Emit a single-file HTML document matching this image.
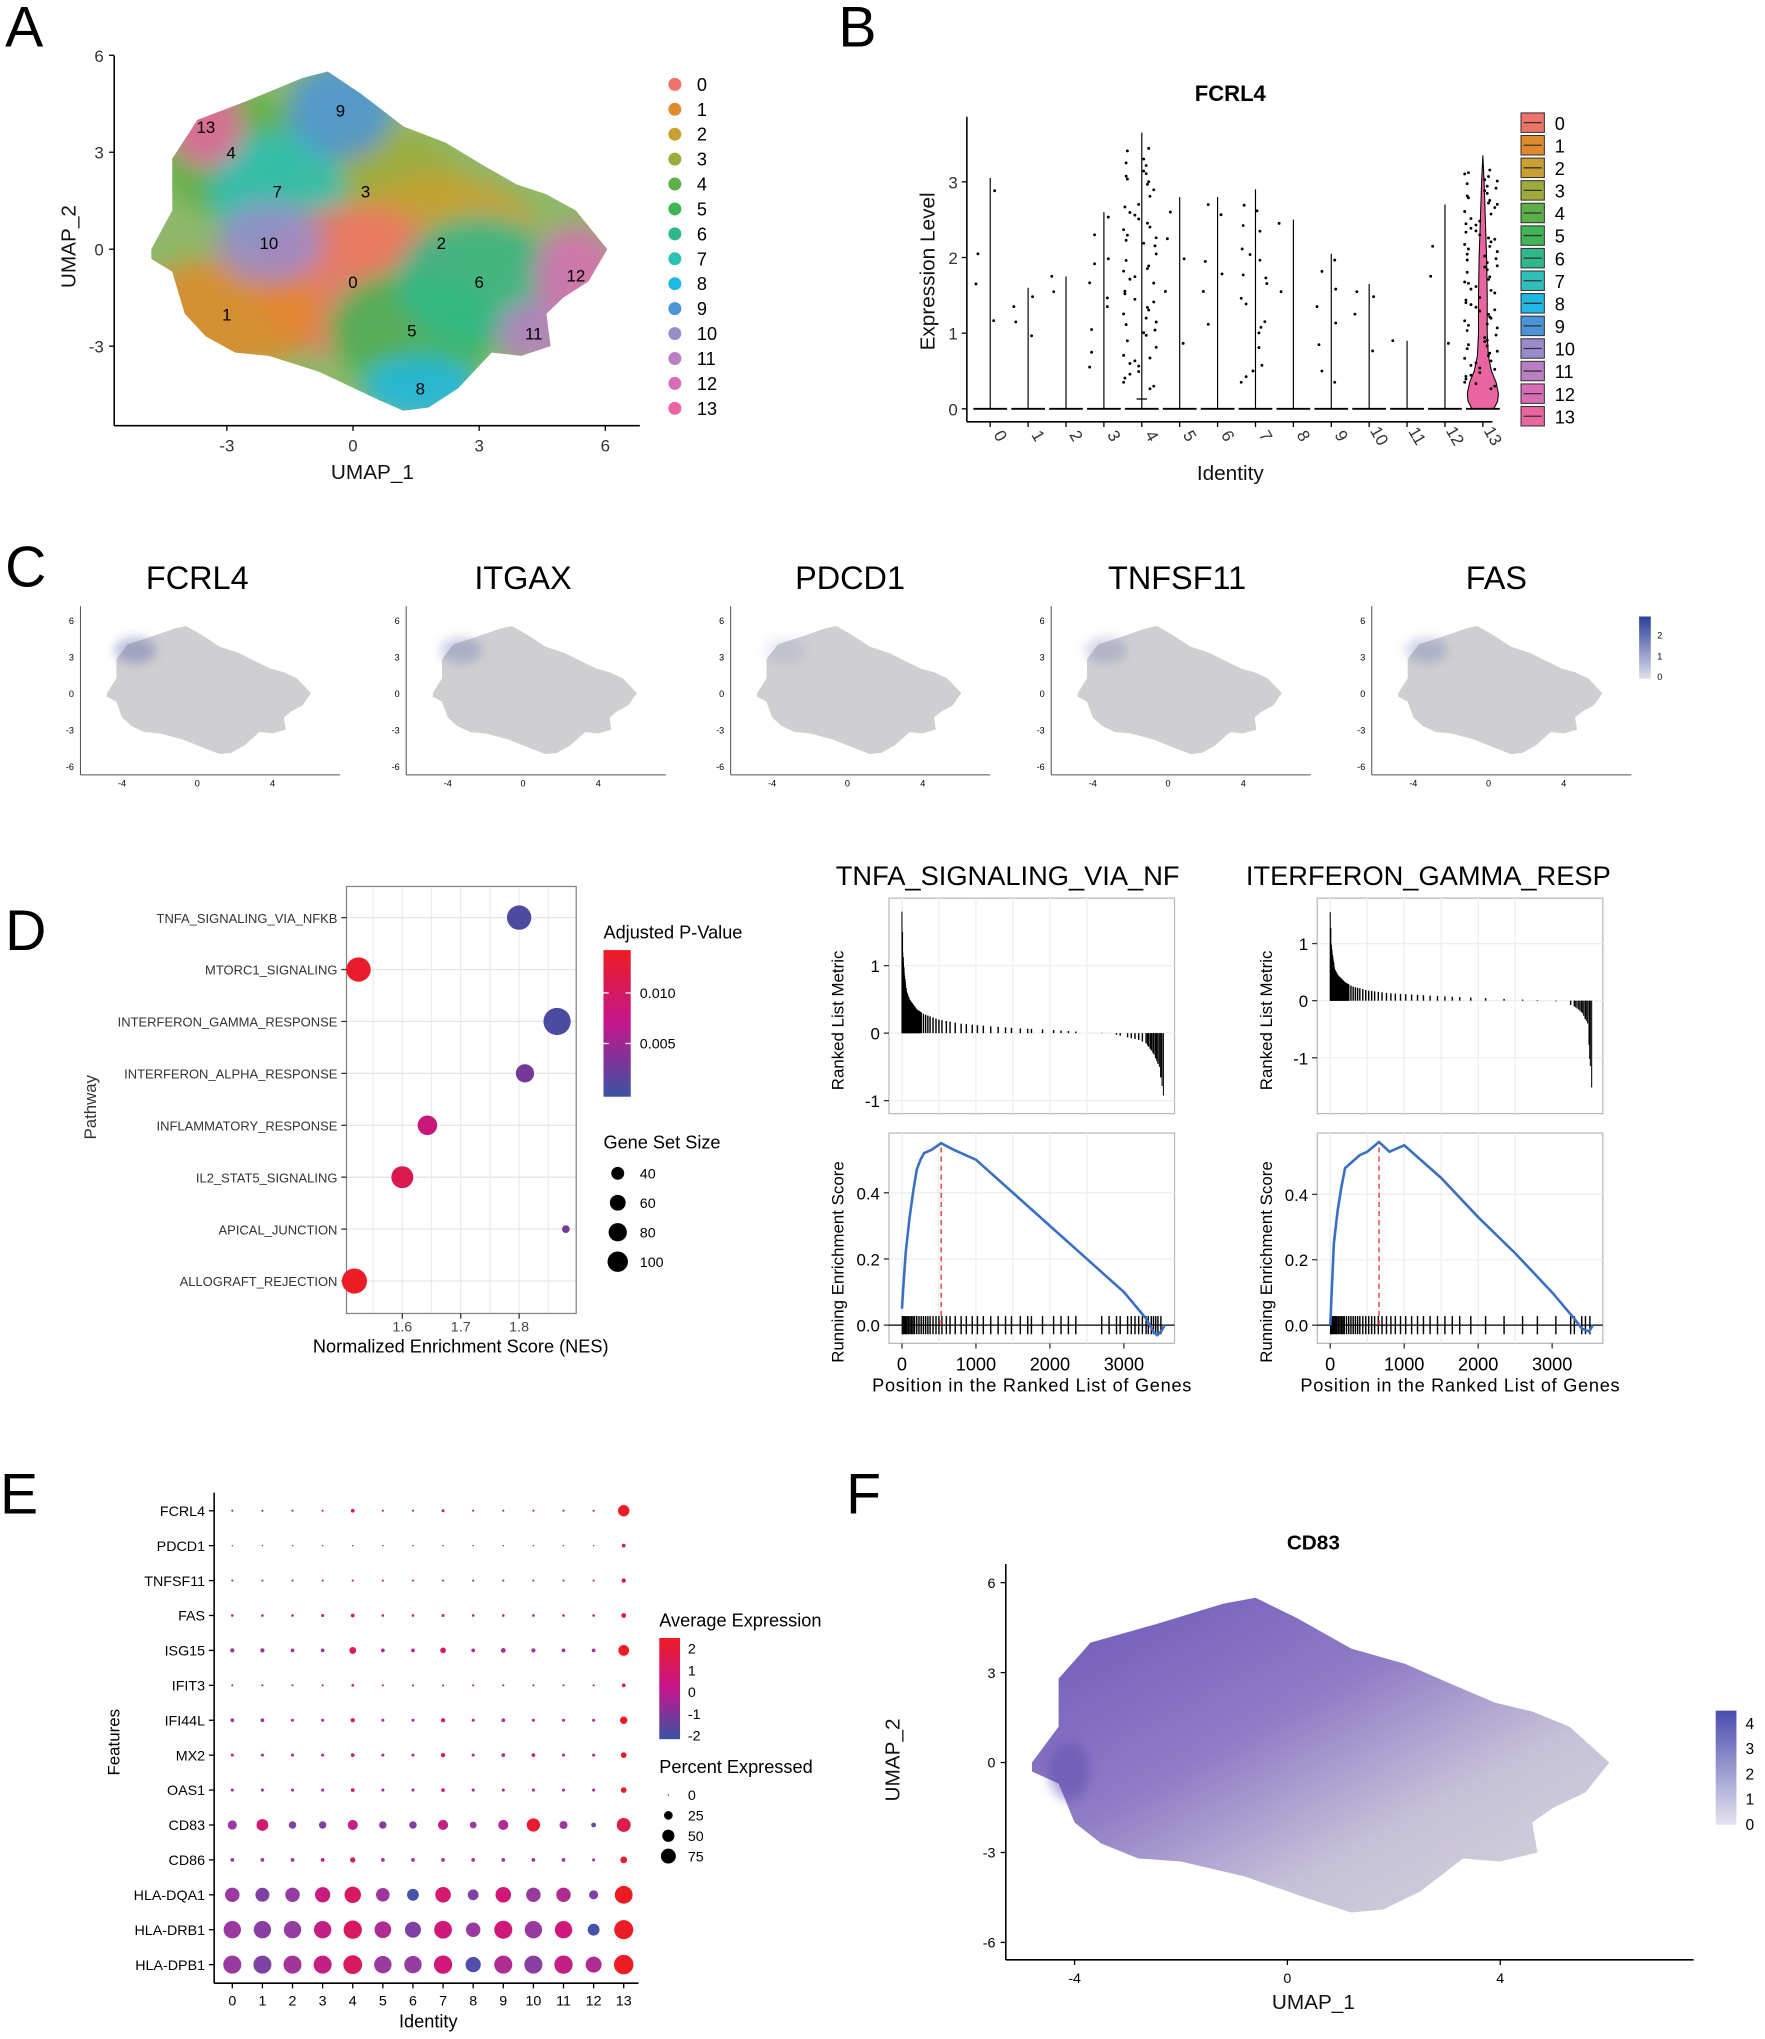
<!DOCTYPE html>
<html><head><meta charset="utf-8"><style>
html,body{margin:0;padding:0;background:#fff}
svg{display:block}
text{font-family:"Liberation Sans",sans-serif}
.lab{font-size:44px}
.tk{font-size:13px;fill:#333}
.at{font-size:16px;fill:#111}
</style></head><body>
<svg id="fig" xmlns="http://www.w3.org/2000/svg" width="1765" height="2039" viewBox="0 0 1360 1571" preserveAspectRatio="none">
<rect width="1360" height="1571" fill="#fff"/>
<defs>
<clipPath id="clipA"><path id="clipApath"/></clipPath>
<filter id="blurA" x="-20%" y="-20%" width="140%" height="140%"><feGaussianBlur stdDeviation="9"/></filter>
<filter id="blurS" x="-50%" y="-50%" width="200%" height="200%"><feGaussianBlur stdDeviation="4"/></filter>
<linearGradient id="gF" x1="0" x2="1" y1="0" y2="1"><stop offset="0" stop-color="#6d58b8"/><stop offset="0.4" stop-color="#8f7cc6"/><stop offset="0.68" stop-color="#c6c1d8"/><stop offset="1" stop-color="#d6d5da"/></linearGradient>
<linearGradient id="gCb" x1="0" x2="0" y1="0" y2="1"><stop offset="0" stop-color="#2b3f9a"/><stop offset="1" stop-color="#e0e0ea"/></linearGradient>
<linearGradient id="gFb" x1="0" x2="0" y1="0" y2="1"><stop offset="0" stop-color="#4a4cb0"/><stop offset="1" stop-color="#e6e3ee"/></linearGradient>
<linearGradient id="gP" x1="0" x2="0" y1="0" y2="1"><stop offset="0" stop-color="#ed1c24"/><stop offset="0.5" stop-color="#c4168c"/><stop offset="1" stop-color="#3a53a4"/></linearGradient>
</defs>
<g>
<text class="lab" x="4" y="36">A</text><text class="lab" x="646" y="36">B</text>
<text class="lab" x="4" y="452">C</text><text class="lab" x="4" y="732">D</text>
<text class="lab" x="0" y="1166">E</text><text class="lab" x="652" y="1166">F</text>
</g>
<g id="pA">
<text class="at" x="255" y="369">UMAP_1</text>
<text class="at" transform="translate(58,222) rotate(-90)">UMAP_2</text>
</g>
<g id="pB">
<text x="948" y="78" text-anchor="middle" style="font-size:17px;font-weight:bold">FCRL4</text>
<text class="at" x="948" y="370" text-anchor="middle">Identity</text>
<text class="at" transform="translate(720,270) rotate(-90)">Expression Level</text>
</g>
<g id="pC"></g>
<g id="pD">
<text style="font-size:13px;fill:#333" transform="translate(74,878) rotate(-90)">Pathway</text>
<text style="font-size:14px" x="355" y="1042" text-anchor="middle">Normalized Enrichment Score (NES)</text>
<text style="font-size:14px" x="465" y="723">Adjusted P-Value</text>
<text style="font-size:14px" x="465" y="885">Gene Set Size</text>
</g>
<g id="pG"></g>
<g id="pE">
<text style="font-size:13px" transform="translate(92,1368) rotate(-90)">Features</text>
<text style="font-size:14px" x="330" y="1562" text-anchor="middle">Identity</text>
<text style="font-size:14px" x="508" y="1253">Average Expression</text>
<text style="font-size:14px" x="508" y="1366">Percent Expressed</text>
</g>
<g id="pF">
<text x="1012" y="1194" text-anchor="middle" style="font-size:16px;font-weight:bold">CD83</text>
<text class="at" x="1012" y="1548" text-anchor="middle">UMAP_1</text>
<text class="at" transform="translate(693,1388) rotate(-90)">UMAP_2</text>
</g>
</svg>
<script>
const NS="http://www.w3.org/2000/svg";
function mk(tag,attrs,parent){const e=document.createElementNS(NS,tag);for(const k in attrs)e.setAttribute(k,attrs[k]);parent.appendChild(e);return e;}
function tx(s,attrs,parent){const e=mk('text',attrs,parent);e.textContent=s;return e;}
function lerp(a,b,t){return a+(b-a)*t;}
function interp(xs,ys,x){if(x<=xs[0])return ys[0];for(let i=1;i<xs.length;i++){if(x<=xs[i]){const t=(x-xs[i-1])/(xs[i]-xs[i-1]);return lerp(ys[i-1],ys[i],t);}}return ys[ys.length-1];}
function hex(c){return [parseInt(c.slice(1,3),16),parseInt(c.slice(3,5),16),parseInt(c.slice(5,7),16)];}
function grad(stops,cols,v){for(let i=1;i<stops.length;i++){if(v<=stops[i]||i==stops.length-1){let t=Math.max(0,Math.min(1,(v-stops[i-1])/(stops[i]-stops[i-1])));const a=hex(cols[i-1]),b=hex(cols[i]);return 'rgb('+a.map((q,j)=>Math.round(lerp(q,b[j],t))).join(',')+')';}}}

const outlineX=[-4.8,-4.3,-4.3,-3.7,-2.5,-1.2,-0.6,0.2,1.2,2.2,3.1,3.9,4.6,5.3,6.05,5.6,5.0,4.6,4.7,4.0,3.3,2.5,1.8,1.2,0.5,-0.8,-2.0,-2.8,-3.5,-4.0,-4.3,-4.8];
const outlineY=[0.0,1.2,2.8,4.0,4.6,5.3,5.5,4.8,3.8,3.3,2.6,2.0,1.7,1.2,0.0,-1.0,-1.5,-2.0,-3.0,-3.3,-3.2,-4.3,-4.9,-5.0,-4.6,-3.8,-3.3,-3.2,-2.7,-2.0,-0.7,-0.3];

const clusterIds=['0','1','2','3','4','5','6','7','8','9','10','11','12','13'];
const clusterColors=['#F0736A','#E08A2B','#C9A032','#9EAA3A','#5DAF47','#3FB556','#2FB98A','#2EBFB8','#1FB7E3','#4A95D8','#9A8CCB','#BA7FC3','#D96DB5','#EA659F'];
const clusterCX=[0,-3,2.1,0.3,-2.9,1.4,3.0,-1.8,1.6,-0.3,-2.0,4.3,5.3,-3.5];
const clusterCY=[-1,-2,0.2,1.8,3.0,-2.5,-1.0,1.8,-4.3,4.3,0.2,-2.6,-0.8,3.8];
const clusterRX=[1.9,1.8,1.9,1.9,1.4,1.6,1.6,1.3,1.1,1.0,1.0,0.7,0.8,0.7];
const clusterRY=[1.9,1.4,1.7,1.6,1.6,1.5,1.6,1.5,0.8,1.2,1.0,0.8,1.2,1.0];
const aTicks=[-3,0,3,6];
(function(){
 const g=document.getElementById('pA');
 const sx=v=>272+v*32.4, sy=v=>192-v*24.9;
 let d='';outlineX.forEach((x,i)=>{d+=(i?'L':'M')+sx(x).toFixed(1)+','+sy(outlineY[i]).toFixed(1);});d+='Z';
 document.getElementById('clipApath').setAttribute('d',d);
 const cg=mk('g',{'clip-path':'url(#clipA)'},g);
 mk('path',{d:d,fill:'#8fb86a'},cg);
 const bg=mk('g',{filter:'url(#blurA)'},cg);
 const order=[3,4,7,2,0,1,10,5,6,9,8,11,12,13];
 order.forEach(i=>{
  const e=mk('ellipse',{cx:sx(clusterCX[i]),cy:sy(clusterCY[i]),rx:clusterRX[i]*32.4*1.25,ry:clusterRY[i]*24.9*1.25,fill:clusterColors[i],opacity:0.85},bg);
  
  
 });
 clusterIds.forEach((c,i)=>{const t=tx(c,{x:sx(clusterCX[i]),y:sy(clusterCY[i])+5,'text-anchor':'middle',style:'font-size:13px'},g);
  });
 mk('line',{x1:88,y1:43,x2:88,y2:328,stroke:'#000','stroke-width':1.2},g);
 mk('line',{x1:88,y1:328,x2:493,y2:328,stroke:'#000','stroke-width':1.2},g);
 aTicks.forEach(v=>{mk('line',{x1:sx(v),x2:sx(v),y1:328,y2:332,stroke:'#000'},g);tx(String(v),{x:sx(v),y:348,'text-anchor':'middle',class:'tk'},g);
  mk('line',{x1:84,x2:88,y1:sy(v),y2:sy(v),stroke:'#000'},g);tx(String(v),{x:80,y:sy(v)+5,'text-anchor':'end',class:'tk'},g);});
 clusterIds.forEach((c,i)=>{const y=65+i*19.2;
  const dot=mk('circle',{cx:520,cy:y,r:5,fill:clusterColors[i]},g);
  
  tx(c,{x:537,y:y+5,style:'font-size:14px'},g);});
})();

const violinMax=[3.05,1.6,1.75,2.6,3.65,2.8,2.8,2.9,2.5,2.05,1.65,0.9,2.7,3.35];
const jitterCounts=[4,4,2,10,60,5,6,20,2,8,4,1,3,90];
const jitterSeed=[[1.6,2.1,1.2,2.9],[1.3,1.2,1.0,1.5],[1.7,1.6],[0.5,1.1,1.5,2.0,2.3,1.9,2.5,1.3,0.8,1.7],[],[1.5,2.3,0.9,2.0,2.6],[1.5,2.0,2.6,1.8,2.7,1.1],[],[2.4,1.6],[1.3,0.9,2.0,1.6,0.5,1.8,1.1,0.3],[1.2,1.6,0.8,1.5],[0.85],[1.7,2.2,0.9],[]];
const violin13Y=[0,0.1,0.2,0.35,0.5,0.7,1.0,1.5,2.0,2.5,3.0,3.35];
const violin13W=[0.7,0.95,1.0,0.85,0.55,0.35,0.28,0.28,0.24,0.16,0.08,0];
const bTicks=[0,1,2,3];
(function(){
 const g=document.getElementById('pB');
 const sx=i=>763+i*29.2, sy=v=>315-v*58.3;
 mk('line',{x1:745,y1:90,x2:745,y2:325,stroke:'#000','stroke-width':1.2},g);
 mk('line',{x1:745,y1:325,x2:1150,y2:325,stroke:'#000','stroke-width':1.2},g);
 bTicks.forEach(v=>{mk('line',{x1:741,x2:745,y1:sy(v),y2:sy(v),stroke:'#000'},g);tx(String(v),{x:738,y:sy(v)+5,'text-anchor':'end',class:'tk'},g);});
 clusterIds.forEach((c,i)=>{
  const x=sx(i);
  mk('line',{x1:x,x2:x,y1:325,y2:329,stroke:'#000'},g);
  tx(c,{x:0,y:0,transform:'translate('+(x+4)+',338) rotate(60)','text-anchor':'middle',class:'tk'},g);
  if(i==13){
   let d='M'+x+','+sy(0);
   violin13Y.forEach((v,k)=>{d+='L'+(x+violin13W[k]*12)+','+sy(v);});
   for(let k=violin13Y.length-1;k>=0;k--){d+='L'+(x-violin13W[k]*12)+','+sy(violin13Y[k]);}
   const p=mk('path',{d:d+'Z',fill:clusterColors[i],stroke:'#000','stroke-width':0.8},g);
   
  } else {
   const v=mk('line',{x1:x,x2:x,y1:sy(0),y2:sy(violinMax[i]),stroke:'#000','stroke-width':0.9},g);
   
  }
  mk('line',{x1:x-13,x2:x+13,y1:sy(0),y2:sy(0),stroke:'#000','stroke-width':1.4},g);
  let vals=jitterSeed[i].slice();
  const n=jitterCounts[i];
  for(let k=vals.length;k<n;k++){const f=((k*37)%23)/23;vals.push(0.3+f*(violinMax[i]-0.4));}
  vals.forEach((v,k)=>{const off=(((k*53+k*k*7)%29)/29-0.5)*(i==13||i==4?28:22);
   mk('circle',{cx:x+off,cy:sy(v)+((k*13)%7-3),r:1.1,fill:'#000'},g);});
 });
 mk('line',{x1:sx(4)-4,x2:sx(4)+4,y1:sy(0.13),y2:sy(0.13),stroke:'#000'},g);
 clusterIds.forEach((c,i)=>{const y=87+i*17.4;
  const r=mk('rect',{x:1172,y:y,width:18,height:15,fill:clusterColors[i],stroke:'#333','stroke-width':0.8},g);
  
  mk('line',{x1:1174,x2:1188,y1:y+7.5,y2:y+7.5,stroke:'#333'},g);
  tx(c,{x:1198,y:y+13,style:'font-size:14px'},g);});
})();

const featureGenes=['FCRL4','ITGAX','PDCD1','TNFSF11','FAS'];
const featureLeft=[62,313,563,810,1057];
const featureTitleX=[152,403,655,907,1153];
const featureBlue=[0.4,0.3,0.12,0.25,0.28];
const cYTicks=[6,3,0,-3,-6];
const cXTicks=[-4,0,4];
(function(){
 const g=document.getElementById('pC');
 featureGenes.forEach((gene,j)=>{
  const L=featureLeft[j];
  const sx=v=>L+90+v*14.5, sy=v=>534-v*9.4;
  const t=tx(gene,{x:featureTitleX[j],y:454,'text-anchor':'middle',style:'font-size:25px'},g);
  
  let d='';outlineX.forEach((x,i)=>{d+=(i?'L':'M')+sx(x).toFixed(1)+','+sy(outlineY[i]).toFixed(1);});
  const p=mk('path',{d:d+'Z',fill:'#cfcfd2'},g);
  
  mk('ellipse',{cx:sx(-3.3),cy:sy(3.5),rx:16,ry:10,fill:'#5860a8',opacity:featureBlue[j],filter:'url(#blurS)'},g);
  mk('line',{x1:L,y1:467,x2:L,y2:597,stroke:'#555','stroke-width':0.8},g);
  mk('line',{x1:L,y1:597,x2:L+200,y2:597,stroke:'#555','stroke-width':0.8},g);
  cYTicks.forEach(v=>tx(String(v),{x:L-5,y:sy(v)+3,'text-anchor':'end',style:'font-size:7px'},g));
  cXTicks.forEach(v=>tx(String(v),{x:sx(v),y:606,'text-anchor':'middle',style:'font-size:7px'},g));
 });
 const cb=mk('rect',{x:1263,y:475,width:9,height:48,fill:'url(#gCb)'},g);
 
 [['2',492],['1',508],['0',524]].forEach(a=>tx(a[0],{x:1277,y:a[1],style:'font-size:7px'},g));
})();

const pathways=['TNFA_SIGNALING_VIA_NFKB','MTORC1_SIGNALING','INTERFERON_GAMMA_RESPONSE','INTERFERON_ALPHA_RESPONSE','INFLAMMATORY_RESPONSE','IL2_STAT5_SIGNALING','APICAL_JUNCTION','ALLOGRAFT_REJECTION'];
const nesValues=[1.80,1.525,1.865,1.81,1.643,1.60,1.88,1.518];
const padjValues=[0.001,0.0135,0.0008,0.003,0.008,0.011,0.003,0.014];
const setSizes=[80,80,100,45,52,65,8,85];
const nesTicks=[1.6,1.7,1.8];
const sizeLegend=[40,60,80,100];
(function(){
 const g=document.getElementById('pD');
 const sx=v=>310+(v-1.6)*450, sy=i=>707+i*40;
 const sr=s=>Math.sqrt(s/100)*10.5;
 const pc=p=>grad([0,0.007,0.014],['#3a53a4','#c4168c','#ed1c24'],p);
 mk('rect',{x:267,y:683,width:177,height:329,fill:'#fff'},g);
 for(let v=1.5;v<=1.9;v+=0.05){const x=sx(v);if(x>267&&x<444)mk('line',{x1:x,x2:x,y1:683,y2:1012,stroke:'#ececec'},g);}
 pathways.forEach((p,i)=>mk('line',{x1:267,x2:444,y1:sy(i),y2:sy(i),stroke:'#e6e6e6'},g));
 mk('rect',{x:267,y:683,width:177,height:329,fill:'none',stroke:'#888','stroke-width':1},g);
 pathways.forEach((p,i)=>{
  tx(p,{x:260,y:sy(i)+4,'text-anchor':'end',style:'font-size:10px;fill:#333'},g);
  mk('line',{x1:263,x2:267,y1:sy(i),y2:sy(i),stroke:'#333'},g);
  const c=mk('circle',{cx:sx(nesValues[i]),cy:sy(i),r:sr(setSizes[i]),fill:pc(padjValues[i])},g);
  
  
 });
 nesTicks.forEach(v=>{mk('line',{x1:sx(v),x2:sx(v),y1:1012,y2:1016,stroke:'#333'},g);tx(v.toFixed(1),{x:sx(v),y:1026,'text-anchor':'middle',style:'font-size:11px;fill:#444'},g);});
 const cb=mk('rect',{x:465,y:732,width:21,height:113,fill:'url(#gP)'},g);
 
 [[0.010,765],[0.005,804]].forEach(a=>{mk('line',{x1:465,x2:469,y1:a[1],y2:a[1],stroke:'#fff'},g);mk('line',{x1:482,x2:486,y1:a[1],y2:a[1],stroke:'#fff'},g);tx(a[0].toFixed(3),{x:493,y:a[1]+4,style:'font-size:11px'},g);});
 sizeLegend.forEach((s,k)=>{const y=904+k*22.7;mk('circle',{cx:476,cy:y,r:sr(s)*0.75,fill:'#000'},g);tx(String(s),{x:493,y:y+4,style:'font-size:11px'},g);});
})();

const gseaTitles=['TNFA_SIGNALING_VIA_NF','ITERFERON_GAMMA_RESP'];
const rankPos=[0,10,30,60,100,200,300,500,800,1200,1600,2000,2400,2800,3000,3200,3300,3400,3480,3550];
const metricTnfa=[1.8,1.2,0.9,0.62,0.5,0.35,0.28,0.2,0.14,0.1,0.07,0.05,0.02,0,-0.05,-0.1,-0.15,-0.3,-0.5,-1.05];
const metricIfng=[1.55,1.0,0.8,0.55,0.45,0.32,0.25,0.18,0.13,0.1,0.07,0.05,0.03,0.01,0,-0.05,-0.1,-0.2,-0.4,-1.85];
const hitsTnfa=[5,15,25,40,55,70,90,110,130,150,170,200,230,260,290,320,350,380,420,460,500,540,600,650,720,800,870,950,1020,1100,1200,1300,1400,1480,1600,1700,1750,1900,2050,2150,2250,2350,2700,2800,2900,2950,3050,3100,3150,3200,3250,3300,3330,3370,3400,3430,3460,3500];
const hitsIfng=[5,12,20,30,45,60,75,90,110,130,150,170,190,220,250,280,310,340,370,400,440,480,520,560,600,650,700,760,820,880,950,1020,1100,1180,1260,1350,1450,1550,1650,1750,1900,2100,2350,2600,2800,3050,3250,3300,3400,3450,3510];
const esPosTnfa=[0,20,50,100,150,200,250,300,400,530,700,1000,1500,2000,2500,3000,3300,3400,3450,3500,3550];
const esValTnfa=[0.05,0.12,0.22,0.32,0.4,0.47,0.5,0.52,0.53,0.55,0.53,0.5,0.4,0.3,0.2,0.1,0.02,-0.02,-0.03,-0.02,0];
const esPosIfng=[0,20,50,100,150,200,300,400,500,660,800,1000,1500,2000,2500,3000,3300,3400,3500,3550];
const esValIfng=[0.0,0.1,0.25,0.35,0.42,0.48,0.5,0.52,0.53,0.56,0.53,0.55,0.45,0.33,0.22,0.1,0.02,-0.01,-0.02,0];
const peakPos=[530,660];
const gseaXTicks=[0,1000,2000,3000];
const esTicks=[0.0,0.2,0.4];
const metricTicksTnfa=[1,0,-1];
const metricTicksIfng=[1,0,-1];
(function(){
 const g=document.getElementById('pG');
 const cfg=[{L:685,titleX:644,m0:796,mU:52,metric:metricTnfa,hits:hitsTnfa,esP:esPosTnfa,esV:esValTnfa,mt:metricTicksTnfa,es0:1021,esU:255},
            {L:1015,titleX:960,m0:771,mU:44,metric:metricIfng,hits:hitsIfng,esP:esPosIfng,esV:esValIfng,mt:metricTicksIfng,es0:1021,esU:252}];
 cfg.forEach((c,j)=>{
  const sx=p=>c.L+10+p*0.057;
  const t=tx(gseaTitles[j],{x:c.titleX,y:682,style:'font-size:21px'},g);
  
  mk('rect',{x:c.L,y:692,width:220,height:166,fill:'#fff',stroke:'#bbb'},g);
  mk('rect',{x:c.L,y:873,width:220,height:162,fill:'#fff',stroke:'#bbb'},g);
  for(let k=0;k<6;k++){const x=c.L+10+k*500*0.057;mk('line',{x1:x,x2:x,y1:692,y2:858,stroke:'#eee'},g);mk('line',{x1:x,x2:x,y1:873,y2:1035,stroke:'#eee'},g);}
  const my=v=>c.m0-v*c.mU;
  c.mt.forEach(v=>{mk('line',{x1:c.L,x2:c.L+220,y1:my(v),y2:my(v),stroke:'#eee'},g);mk('line',{x1:c.L-4,x2:c.L,y1:my(v),y2:my(v),stroke:'#333'},g);tx(String(v),{x:c.L-7,y:my(v)+5,'text-anchor':'end',style:'font-size:13px'},g);});
  const bars=mk('g',{},g);
  
  for(let p=0;p<=250;p+=5){const v=interp(rankPos,c.metric,p);mk('line',{x1:sx(p),x2:sx(p),y1:my(0),y2:my(v),stroke:'#000','stroke-width':0.8},bars);}
  for(let p=3300;p<=3550;p+=18){const v=interp(rankPos,c.metric,p);mk('line',{x1:sx(p),x2:sx(p),y1:my(0),y2:my(v),stroke:'#000','stroke-width':0.8},bars);}
  c.hits.forEach(p=>{const v=interp(rankPos,c.metric,p);mk('line',{x1:sx(p),x2:sx(p),y1:my(0),y2:my(v),stroke:'#000','stroke-width':1.1},bars);});
  const ey=v=>c.es0-v*c.esU;
  esTicks.forEach(v=>{mk('line',{x1:c.L,x2:c.L+220,y1:ey(v),y2:ey(v),stroke:'#eee'},g);mk('line',{x1:c.L-4,x2:c.L,y1:ey(v),y2:ey(v),stroke:'#333'},g);tx(v.toFixed(1),{x:c.L-7,y:ey(v)+5,'text-anchor':'end',style:'font-size:13px'},g);});
  mk('line',{x1:c.L,x2:c.L+220,y1:ey(0),y2:ey(0),stroke:'#000'},g);
  c.hits.forEach(p=>mk('line',{x1:sx(p),x2:sx(p),y1:ey(0)-7,y2:ey(0)+7,stroke:'#000','stroke-width':1.1},g));
  let d='';c.esP.forEach((p,k)=>{d+=(k?'L':'M')+sx(p).toFixed(1)+','+ey(c.esV[k]).toFixed(1);});
  const curve=mk('path',{d:d,fill:'none',stroke:'#3b6fc1','stroke-width':2},g);
  
  const pk=interp(c.esP,c.esV,peakPos[j]);
  mk('line',{x1:sx(peakPos[j]),x2:sx(peakPos[j]),y1:ey(0),y2:ey(pk),stroke:'#e03030','stroke-dasharray':'4,3'},g);
  gseaXTicks.forEach(v=>{mk('line',{x1:sx(v),x2:sx(v),y1:1035,y2:1039,stroke:'#333'},g);tx(String(v),{x:sx(v),y:1056,'text-anchor':'middle',style:'font-size:14px'},g);});
  tx('Position in the Ranked List of Genes',{x:c.L-13,y:1072,style:'font-size:14px',textLength:246},g);
  tx('Ranked List Metric',{transform:'translate('+(c.L-35)+',840) rotate(-90)',style:'font-size:13px'},g);
  tx('Running Enrichment Score',{transform:'translate('+(c.L-35)+',1050) rotate(-90)',style:'font-size:13px'},g);
 });
 mk('rect',{x:918,y:660,width:40,height:420,fill:'#fff'},g);
})();

const geneRows=['FCRL4','PDCD1','TNFSF11','FAS','ISG15','IFIT3','IFI44L','MX2','OAS1','CD83','CD86','HLA-DQA1','HLA-DRB1','HLA-DPB1'];
const pctExpr=[
[1,1,1,1,3,1,1,2,1,1,1,1,1,28],
[0.5,0.5,0.5,0.5,0.5,0.5,0.5,0.5,0.5,0.5,0.5,0.5,0.5,3],
[1,1,1,1,1,1,1,1,1,1,1,1,1,4],
[1.5,1.5,1.5,2,3,1.5,1.5,2,1.5,1.5,1.5,1.5,1.5,5],
[4,4,3,3,10,3,3,7,3,5,4,3,3,25],
[1,1,1,1,1.5,1,1,1,1,1,1,1,1,3],
[3,3,2,2,4,2,2,4,2,3,2,2,2,12],
[2,2,2,2,3,2,2,4,2,3,3,2,2,7],
[2,2,2,2,3,2,2,3,2,2,2,2,2,7],
[18,30,12,12,22,12,12,22,10,22,38,14,5,42],
[3,3,3,3,6,3,3,3,3,3,3,3,2,10],
[45,42,45,50,58,40,30,52,25,52,45,45,18,68],
[65,65,65,65,72,60,55,68,45,70,65,65,30,78],
[70,70,70,70,76,65,65,72,50,70,70,72,55,82]];
const avgExpr=[
[0,0,0,0,1,0,0,0.5,0,0,0,0,0,2.5],
[0,0,0,0,0,0,0,0,0,0,0,0,0,1.5],
[0,0,0,0,0.5,0,0,0,0,0,0,0,0,1.5],
[0,0,0,0.5,1,0,0,0,0,0,0,0,0,1.8],
[-0.5,-0.3,-0.5,-0.5,1.5,0,0,1,0,0,-0.5,-0.5,-0.5,2.5],
[0,0,0,0,0.8,0,0,0,0,0,0,0,0,1.5],
[-0.3,-0.3,0,0,1,0,0,1,0,0,0,0,0,2.3],
[0,0,0,0,0.5,0,0,1,0,0,0.5,0,0,2],
[0,0,0,0,1,0,0,0.5,0,0,0,0,0,2],
[-0.5,1,-1,-1,0.5,-1,-1,0.5,-0.5,0,2,-0.5,-1.3,1.5],
[-0.3,-0.3,0,0.8,1,0,0,0,0,0,0,0,0,2],
[-0.5,-1,-0.6,0.6,1.2,-0.4,-2,1,-1,0.8,-0.5,0,-1,2.2],
[-0.5,-0.8,-0.6,0.5,1.2,0,-1,0.8,-0.5,0.8,-0.5,0.8,-2,2.2],
[-0.5,-1,-0.3,0.5,1.2,-0.5,-0.6,0.8,-1.8,0,-0.8,0.5,0,2.2]];
const pctLegend=[0,25,50,75];
const avgTicks=[2,1,0,-1,-2];
(function(){
 const g=document.getElementById('pE');
 const sx=i=>179+i*23.2, sy=r=>1164+r*26.9;
 const rad=p=>Math.max(0.6,Math.sqrt(p/75)*7.2);
 const col=v=>grad([-2,-0.5,0.8,2.2],['#4652ab','#9a3aa0','#d0187a','#ed1c24'],v);
 mk('line',{x1:165,y1:1150,x2:165,y2:1528,stroke:'#000','stroke-width':1.2},g);
 mk('line',{x1:165,y1:1528,x2:492,y2:1528,stroke:'#000','stroke-width':1.2},g);
 geneRows.forEach((gn,r)=>{
  tx(gn,{x:158,y:sy(r)+4,'text-anchor':'end',style:'font-size:11px'},g);
  mk('line',{x1:161,x2:165,y1:sy(r),y2:sy(r),stroke:'#000'},g);
  clusterIds.forEach((c,i)=>{const d=mk('circle',{cx:sx(i),cy:sy(r),r:rad(pctExpr[r][i]),fill:col(avgExpr[r][i])},g);
   });
 });
 clusterIds.forEach((c,i)=>{mk('line',{x1:sx(i),x2:sx(i),y1:1528,y2:1532,stroke:'#000'},g);tx(c,{x:sx(i),y:1545,'text-anchor':'middle',style:'font-size:11px'},g);});
 const cb=mk('rect',{x:508,y:1262,width:16,height:78,fill:'url(#gP)'},g);
 
 avgTicks.forEach((v,k)=>tx(String(v),{x:530,y:1274+k*16.8,style:'font-size:11px'},g));
 pctLegend.forEach((p,k)=>{const y=1383+k*15.7;mk('circle',{cx:515,cy:y,r:rad(p)*0.8,fill:'#000'},g);tx(String(p),{x:530,y:y+4,style:'font-size:11px'},g);});
})();

const fYTicks=[6,3,0,-3,-6];
const fXTicks=[-4,0,4];
const fLegend=[4,3,2,1,0];
(function(){
 const g=document.getElementById('pF');
 const sx=v=>992+v*41, sy=v=>1358-v*23.1;
 let d='';outlineX.forEach((x,i)=>{d+=(i?'L':'M')+sx(x).toFixed(1)+','+sy(outlineY[i]).toFixed(1);});
 const p=mk('path',{d:d+'Z',fill:'url(#gF)'},g);
 
 mk('ellipse',{cx:sx(-4.1),cy:sy(-0.3),rx:16,ry:22,fill:'#5a48ad',opacity:0.45,filter:'url(#blurS)'},g);
 mk('line',{x1:775,y1:1205,x2:775,y2:1510,stroke:'#000','stroke-width':1.2},g);
 mk('line',{x1:775,y1:1510,x2:1305,y2:1510,stroke:'#000','stroke-width':1.2},g);
 fYTicks.forEach(v=>{mk('line',{x1:771,x2:775,y1:sy(v),y2:sy(v),stroke:'#000'},g);tx(String(v),{x:767,y:sy(v)+4,'text-anchor':'end',style:'font-size:11px'},g);});
 fXTicks.forEach(v=>{mk('line',{x1:sx(v),x2:sx(v),y1:1510,y2:1514,stroke:'#000'},g);tx(String(v),{x:sx(v),y:1528,'text-anchor':'middle',style:'font-size:11px'},g);});
 const cb=mk('rect',{x:1322,y:1318,width:16,height:88,fill:'url(#gFb)'},g);
 
 fLegend.forEach((v,k)=>tx(String(v),{x:1345,y:1332+k*19.5,style:'font-size:12px'},g));
})();
</script>
</body></html>
